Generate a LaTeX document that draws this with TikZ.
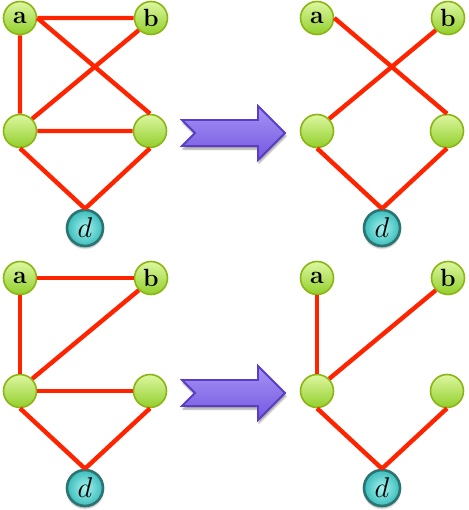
\documentclass[tikz,border=0pt]{standalone}
\usepackage{xcolor}
\definecolor{edgered}{HTML}{FF2400}
\definecolor{leafhi}{HTML}{DDF7A0}
\definecolor{leaflo}{HTML}{92CF2C}
\definecolor{leafrim}{HTML}{8AB512}
\definecolor{tealhi}{HTML}{A6F3F0}
\definecolor{teallo}{HTML}{3BBDBB}
\definecolor{tealrim}{HTML}{2C7471}
\definecolor{arrowhi}{HTML}{A593F5}
\definecolor{arrowlo}{HTML}{7558E0}
\definecolor{arrowrim}{HTML}{5A3DC4}
\usepackage{tikz}
\usetikzlibrary{shadows.blur}

\tikzset{
  vtx/.style={circle, minimum size=33pt, inner sep=0pt, draw=leafrim, line width=1.6pt,
    top color=leafhi, bottom color=leaflo, font=\Huge\bfseries},
  dvtx/.style={circle, minimum size=36pt, inner sep=0pt, draw=tealrim, line width=2.6pt,
    inner color=tealhi, outer color=teallo, font=\Huge,
    blur shadow={shadow xshift=0pt, shadow yshift=-2pt, shadow blur steps=6}},
  link/.style={draw=edgered, line width=4.4pt},
  bigarrow/.style={draw=arrowrim, line width=1.8pt, top color=arrowhi, bottom color=arrowlo,
    line join=miter, blur shadow={shadow xshift=1pt, shadow yshift=-3pt, shadow blur steps=6}}
}

\begin{document}
\begin{tikzpicture}[x=1pt, y=-1pt]
  \useasboundingbox (0,0) rectangle (468,510);
  % Four graphs: before (left) and after (right)
  \foreach \g/\x/\y in {1/20/18, 2/317/18, 3/20/278, 4/317/278} {
    \node[vtx] (a\g) at (\x,\y) {a};
    \node[vtx] (b\g) at (\x+131,\y) {b};
    \node[vtx] (l\g) at (\x,\y+113) {};
    \node[vtx] (r\g) at (\x+130,\y+113) {};
    \node[dvtx] (d\g) at (\x+65,\y+210) {\scalebox{1.15}{$d$}};
  }
  % Edges every graph has
  \foreach \g in {1,...,4} {
    \draw[link] (l\g.south) -- (d\g.north) (r\g.south) -- (d\g.north)
      (b\g.south west) -- (l\g.north east);
  }
  % Top pair
  \draw[link] (a1.east) -- (b1.west) (a1.south) -- (l1.north)
    (a1.east) -- (r1.north) (l1.east) -- (r1.west);
  \draw[link] (a2.east) -- (r2.north);
  % Bottom pair
  \draw[link] (a3.east) -- (b3.west) (a3.south) -- (l3.north) (l3.east) -- (r3.west);
  \draw[link] (a4.south) -- (l4.north);
  % Block arrows
  \foreach \c in {133,393} {
    \path[bigarrow] (182,\c-13) -- (258,\c-13) -- (258,\c-27) -- (285,\c)
      -- (258,\c+27) -- (258,\c+13) -- (182,\c+13) -- (195,\c) -- cycle;
  }
\end{tikzpicture}
\end{document}
